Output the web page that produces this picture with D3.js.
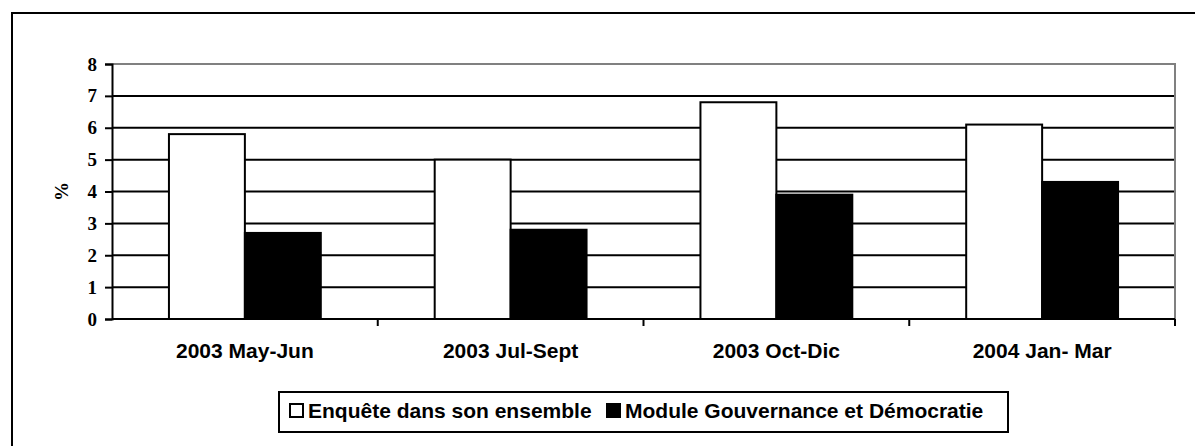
<!DOCTYPE html>
<html>
<head>
<meta charset="utf-8">
<script src="https://cdn.jsdelivr.net/npm/d3@7"></script>
<style>
  body { margin: 0; background: #fff; }
  svg { display: block; }
</style>
</head>
<body>
<div id="chart"></div>
<script>
// Data
const categories = ["2003 May-Jun", "2003 Jul-Sept", "2003 Oct-Dic", "2004 Jan- Mar"];
const seriesNames = ["Enquête dans son ensemble", "Module Gouvernance et Démocratie"];
const enqueteValues = [5.8, 5.0, 6.8, 6.1];
const moduleValues = [2.7, 2.8, 3.9, 4.3];
const yTicks = [0, 1, 2, 3, 4, 5, 6, 7, 8];
const seriesFill = ["#ffffff", "#000000"];

const width = 1195;
const height = 446;
const plot = { left: 112, right: 1175, top: 64, bottom: 319 };

const svg = d3
  .select("#chart")
  .append("svg")
  .attr("width", width)
  .attr("height", height);

// Outer frame (runs off the right and bottom edges)
svg.append("rect")
  .attr("x", 12)
  .attr("y", 13)
  .attr("width", 1300)
  .attr("height", 600)
  .style("fill", "none")
  .style("stroke", "#000")
  .style("stroke-width", 2);

// Scales
const x0 = d3.scaleBand()
  .domain(categories)
  .range([plot.left, plot.right])
  .paddingInner(0)
  .paddingOuter(0);

const x1 = d3.scaleBand()
  .domain(seriesNames)
  .range([0, x0.bandwidth()])
  .paddingInner(0)
  .paddingOuter(0.75);

const y = d3.scaleLinear()
  .domain([0, 8])
  .range([plot.bottom, plot.top]);

// Gridlines
svg.append("g")
  .selectAll("line")
  .data(yTicks.filter((d) => d > 0 && d < 8))
  .enter()
  .append("line")
  .attr("x1", plot.left)
  .attr("x2", plot.right)
  .attr("y1", (d) => y(d))
  .attr("y2", (d) => y(d))
  .style("stroke", "#000")
  .style("stroke-width", 2);

// Plot area border (top & right, gray)
svg.append("path")
  .attr("d", `M${plot.left},${y(8)}H${plot.right}V${plot.bottom}`)
  .style("fill", "none")
  .style("stroke", "#808080")
  .style("stroke-width", 2);

// Bars
const rows = categories.map((c, i) => ({
  cat: c,
  values: [
    { name: seriesNames[0], v: enqueteValues[i], fill: seriesFill[0] },
    { name: seriesNames[1], v: moduleValues[i], fill: seriesFill[1] },
  ],
}));

const groups = svg.selectAll(".bar-group")
  .data(rows)
  .enter()
  .append("g")
  .attr("class", "bar-group")
  .attr("transform", (d) => `translate(${x0(d.cat)},0)`);

groups.selectAll("rect")
  .data((d) => d.values)
  .enter()
  .append("rect")
  .attr("x", (d) => x1(d.name))
  .attr("y", (d) => y(d.v))
  .attr("width", x1.bandwidth())
  .attr("height", (d) => y(0) - y(d.v))
  .style("fill", (d) => d.fill)
  .style("stroke", "#000")
  .style("stroke-width", 2);

// Y axis
const yAxis = d3.axisLeft(y)
  .tickValues(yTicks)
  .tickSize(7)
  .tickPadding(8)
  .tickFormat(d3.format("d"));

const gy = svg.append("g")
  .attr("transform", `translate(${plot.left},0)`)
  .call(yAxis);

gy.select(".domain").style("stroke", "#000").style("stroke-width", 2);
gy.selectAll(".tick line").style("stroke", "#000").style("stroke-width", 2);
gy.selectAll(".tick text")
  .style("font-family", "'Liberation Serif', 'Times New Roman', serif")
  .style("font-weight", "bold")
  .style("font-size", "19px")
  .style("fill", "#000");

// Y axis title
svg.append("text")
  .attr("transform", `translate(68,${(plot.top + plot.bottom) / 2}) rotate(-90)`)
  .style("text-anchor", "middle")
  .style("font-family", "'Liberation Serif', 'Times New Roman', serif")
  .style("font-weight", "bold")
  .style("font-size", "19px")
  .text("%");

// X axis line and ticks at category boundaries
svg.append("line")
  .attr("x1", plot.left)
  .attr("x2", plot.right)
  .attr("y1", plot.bottom)
  .attr("y2", plot.bottom)
  .style("stroke", "#000")
  .style("stroke-width", 2);

svg.append("g")
  .selectAll("line")
  .data(categories)
  .enter()
  .append("line")
  .attr("x1", (d) => x0(d) + x0.bandwidth())
  .attr("x2", (d) => x0(d) + x0.bandwidth())
  .attr("y1", plot.bottom)
  .attr("y2", plot.bottom + 7)
  .style("stroke", "#000")
  .style("stroke-width", 2);

// Category labels
svg.append("g")
  .selectAll("text")
  .data(categories)
  .enter()
  .append("text")
  .attr("x", (d) => x0(d) + x0.bandwidth() / 2)
  .attr("y", 358)
  .style("text-anchor", "middle")
  .style("font-family", "'Liberation Sans', Arial, sans-serif")
  .style("font-weight", "bold")
  .style("font-size", "21px")
  .text((d) => d);

// Legend
const legend = svg.append("g");

legend.append("rect")
  .attr("x", 279)
  .attr("y", 392)
  .attr("width", 729)
  .attr("height", 40)
  .style("fill", "#fff")
  .style("stroke", "#000")
  .style("stroke-width", 2);

const legendX = [290, 607];
const items = legend.selectAll(".legend-item")
  .data(seriesNames)
  .enter()
  .append("g")
  .attr("class", "legend-item")
  .attr("transform", (d, i) => `translate(${legendX[i]},0)`);

items.append("rect")
  .attr("x", 0)
  .attr("y", 404)
  .attr("width", 13)
  .attr("height", 13)
  .style("fill", (d, i) => seriesFill[i])
  .style("stroke", "#000")
  .style("stroke-width", 2);

items.append("text")
  .attr("x", 18)
  .attr("y", 418)
  .style("font-family", "'Liberation Sans', Arial, sans-serif")
  .style("font-weight", "bold")
  .style("font-size", "21px")
  .text((d) => d);
</script>
</body>
</html>
